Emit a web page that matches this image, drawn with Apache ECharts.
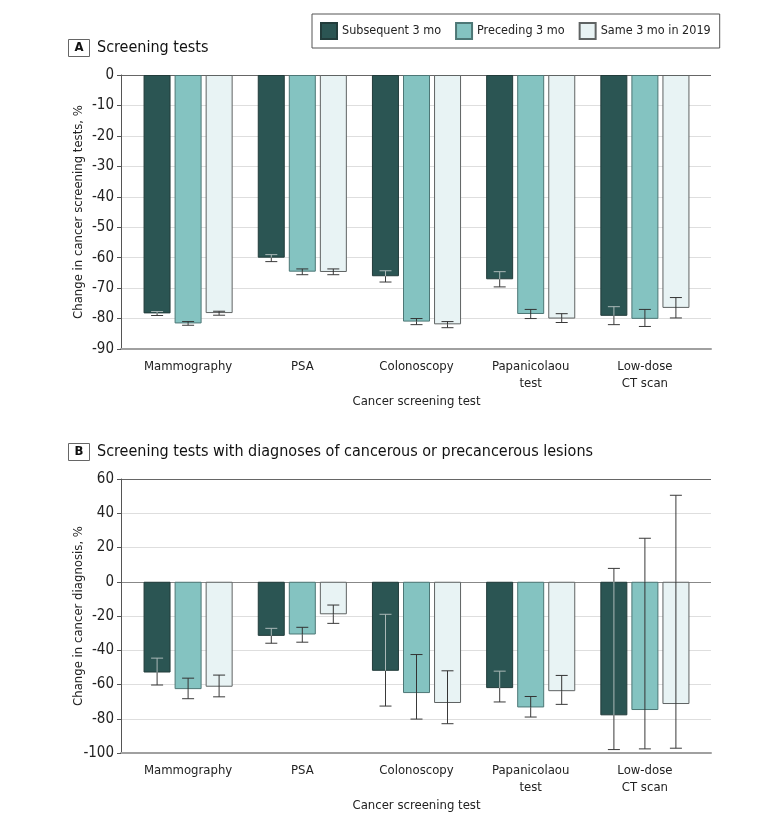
<!DOCTYPE html>
<html>
<head>
<meta charset="utf-8">
<script src="https://cdn.jsdelivr.net/npm/echarts@6/dist/echarts.min.js"></script>
<style>
  html, body { margin: 0; padding: 0; background: #fff; }
  #chart { width: 780px; height: 825px; }
</style>
</head>
<body>
<div id="chart"></div>
<script>
// categories and series names
const categories = ['Mammography', 'PSA', 'Colonoscopy', 'Papanicolaou\ntest', 'Low-dose\nCT scan'];
const seriesNames = ['Subsequent 3 mo', 'Preceding 3 mo', 'Same 3 mo in 2019'];

// A: change in screening tests, %
const testsSubsequent = [-78.3, -60.0, -66.1, -67.1, -79.1];
const testsSubsequentCI = [[-79.0, -77.7], [-61.3, -59.0], [-68.0, -64.3], [-69.6, -64.6], [-82.0, -76.1]];
const testsPreceding = [-81.6, -64.6, -81.0, -78.5, -80.1];
const testsPrecedingCI = [[-82.2, -81.0], [-65.6, -63.7], [-82.0, -80.0], [-80.0, -77.0], [-82.6, -77.0]];
const testsSame2019 = [-78.2, -64.7, -81.9, -80.0, -76.5];
const testsSame2019CI = [[-78.9, -77.6], [-65.6, -63.7], [-83.0, -81.0], [-81.3, -78.4], [-79.8, -73.1]];

// B: change in cancer diagnosis, %
const diagSubsequent = [-53.0, -31.6, -52.0, -62.1, -78.0];
const diagSubsequentCI = [[-60.3, -44.6], [-35.9, -27.2], [-72.6, -19.0], [-70.2, -52.2], [-98.0, 7.8]];
const diagPreceding = [-62.7, -30.8, -65.0, -73.4, -74.9];
const diagPrecedingCI = [[-68.3, -56.3], [-35.3, -26.6], [-80.2, -42.5], [-79.0, -67.0], [-97.6, 25.4]];
const diagSame2019 = [-61.3, -19.0, -70.8, -63.9, -71.4];
const diagSame2019CI = [[-67.2, -54.5], [-24.3, -13.6], [-82.9, -52.0], [-71.6, -54.7], [-97.2, 50.5]];

// y axis ticks
const ticksA = { min: -90, max: 0, interval: 10 };
const ticksB = { min: -100, max: 60, interval: 20 };

const FONT = "'DejaVu Sans Condensed', 'Noto Sans', sans-serif";
const fills = ['#2b5553', '#84c3c1', '#e8f3f4'];
const borders = ['#223c3b', '#4d7776', '#5f6363'];
const BAR_W = 27;
const BAR_PITCH = 31;

const chart = echarts.init(document.getElementById('chart'));

function errRender(slot) {
  return function (params, api) {
    const cat = api.value(0);
    const lo = api.value(1), hi = api.value(2), v = api.value(3);
    const base = api.coord([cat, 0]);
    const x = base[0] + (slot - 1) * BAR_PITCH;
    const yZero = base[1];
    const yBar = api.coord([cat, v])[1];
    const yLo = api.coord([cat, lo])[1];
    const yHi = api.coord([cat, hi])[1];
    const inner = slot === 0 ? '#aab8b7' : '#333';
    const outer = '#3a3a3a';
    const kids = [];
    const seg = (y1, y2, c) => {
      if (y2 - y1 > 0.1) kids.push({ type: 'line', shape: { x1: x, y1: y1, x2: x, y2: y2 }, style: { stroke: c, lineWidth: 1 } });
    };
    // part above zero, part inside the bar, part past the bar end
    seg(yHi, Math.min(yLo, yZero), outer);
    seg(Math.max(yHi, yZero), Math.min(yLo, yBar), inner);
    seg(Math.max(yHi, yBar), yLo, outer);
    const inside = y => y >= yZero && y <= yBar;
    [yLo, yHi].forEach(y => {
      kids.push({ type: 'line', shape: { x1: x - 6, y1: y, x2: x + 6, y2: y }, style: { stroke: inside(y) ? inner : outer, lineWidth: 1 } });
    });
    return { type: 'group', children: kids };
  };
}

function frameY(gridIndex, t, name, colors) {
  return {
    type: 'value', gridIndex: gridIndex, min: t.min, max: t.max, interval: t.interval,
    name: name, nameLocation: 'middle', nameGap: 36, nameMoveOverlap: false,
    nameTextStyle: { fontFamily: FONT, fontSize: 13, color: '#222' },
    axisLine: { show: true, lineStyle: { color: '#555' } },
    axisTick: { show: true, length: 4, lineStyle: { color: '#555' } },
    axisLabel: { fontFamily: FONT, fontSize: 15, color: '#222', margin: 7 },
    splitLine: { show: true, lineStyle: { color: colors, width: 1 } }
  };
}

function frameX(gridIndex) {
  return {
    type: 'value', gridIndex: gridIndex, min: 0, max: 1,
    axisLine: { show: true, onZero: false, lineStyle: { color: '#a0a0a0', width: 2 } },
    axisTick: { show: false }, axisLabel: { show: false }, splitLine: { show: false }
  };
}

function barsX(gridIndex) {
  return {
    type: 'category', gridIndex: gridIndex, data: categories,
    name: 'Cancer screening test', nameLocation: 'middle', nameGap: 46, nameMoveOverlap: false,
    nameTextStyle: { fontFamily: FONT, fontSize: 13, color: '#222' },
    axisLine: { show: false }, axisTick: { show: false },
    axisLabel: { fontFamily: FONT, fontSize: 13, color: '#222', margin: 9, lineHeight: 17, interval: 0 }
  };
}

function barsY(gridIndex, t) {
  return { type: 'value', gridIndex: gridIndex, min: t.min, max: t.max, show: false };
}

function barSeries(k, values, xi) {
  return {
    name: seriesNames[k], type: 'bar', xAxisIndex: xi, yAxisIndex: xi,
    data: values, barWidth: BAR_W, barGap: '15%',
    itemStyle: { color: fills[k], borderColor: borders[k], borderWidth: 1 },
    z: 2
  };
}

function errSeries(k, values, ci, xi) {
  return {
    type: 'custom', xAxisIndex: xi, yAxisIndex: xi, z: 4,
    renderItem: errRender(k),
    data: ci.map((c, i) => [i, c[0], c[1], values[i]]),
    silent: true
  };
}

const colorsA = ['#a0a0a0', '#dedede', '#dedede', '#dedede', '#dedede', '#dedede', '#dedede', '#dedede', '#dedede', '#666'];
const colorsB = ['#a0a0a0', '#dedede', '#dedede', '#dedede', '#dedede', '#888', '#dedede', '#dedede', '#666'];

function panelTitle(letter, text, cy) {
  return [
    { type: 'rect', shape: { x: 68.5, y: cy - 8.5, width: 21, height: 17 }, style: { fill: '#fff', stroke: '#666', lineWidth: 1 } },
    { type: 'text', x: 79, y: cy, style: { text: letter, font: 'bold 13px ' + FONT, fill: '#111', align: 'center', verticalAlign: 'middle' } },
    { type: 'text', x: 97, y: cy, style: { text: text, font: '16px ' + FONT, fill: '#111', verticalAlign: 'middle' } }
  ];
}

chart.setOption({
  animation: false,
  textStyle: { fontFamily: FONT },
  legend: {
    data: seriesNames, left: 312, top: 14, width: 440, orient: 'horizontal',
    padding: [8, 9, 8, 8], itemGap: 14, itemWidth: 16, itemHeight: 16,
    borderColor: '#555', borderWidth: 1, selectedMode: false, icon: 'rect',
    textStyle: { fontFamily: FONT, fontSize: 12.5, color: '#222' }
  },
  graphic: panelTitle('A', 'Screening tests', 48).concat(
    panelTitle('B', 'Screening tests with diagnoses of cancerous or precancerous lesions', 452)),
  grid: [
    { left: 121, right: 69, top: 75, height: 274 },
    { left: 131, right: 78, top: 75, height: 274 },
    { left: 121, right: 69, top: 479, height: 274 },
    { left: 131, right: 78, top: 479, height: 274 }
  ],
  xAxis: [frameX(0), barsX(1), frameX(2), barsX(3)],
  yAxis: [
    frameY(0, ticksA, 'Change in cancer screening tests, %', colorsA),
    barsY(1, ticksA),
    frameY(2, ticksB, 'Change in cancer diagnosis, %', colorsB),
    barsY(3, ticksB)
  ],
  series: [
    barSeries(0, testsSubsequent, 1),
    barSeries(1, testsPreceding, 1),
    barSeries(2, testsSame2019, 1),
    errSeries(0, testsSubsequent, testsSubsequentCI, 1),
    errSeries(1, testsPreceding, testsPrecedingCI, 1),
    errSeries(2, testsSame2019, testsSame2019CI, 1),
    barSeries(0, diagSubsequent, 3),
    barSeries(1, diagPreceding, 3),
    barSeries(2, diagSame2019, 3),
    errSeries(0, diagSubsequent, diagSubsequentCI, 3),
    errSeries(1, diagPreceding, diagPrecedingCI, 3),
    errSeries(2, diagSame2019, diagSame2019CI, 3)
  ]
});
</script>
</body>
</html>
